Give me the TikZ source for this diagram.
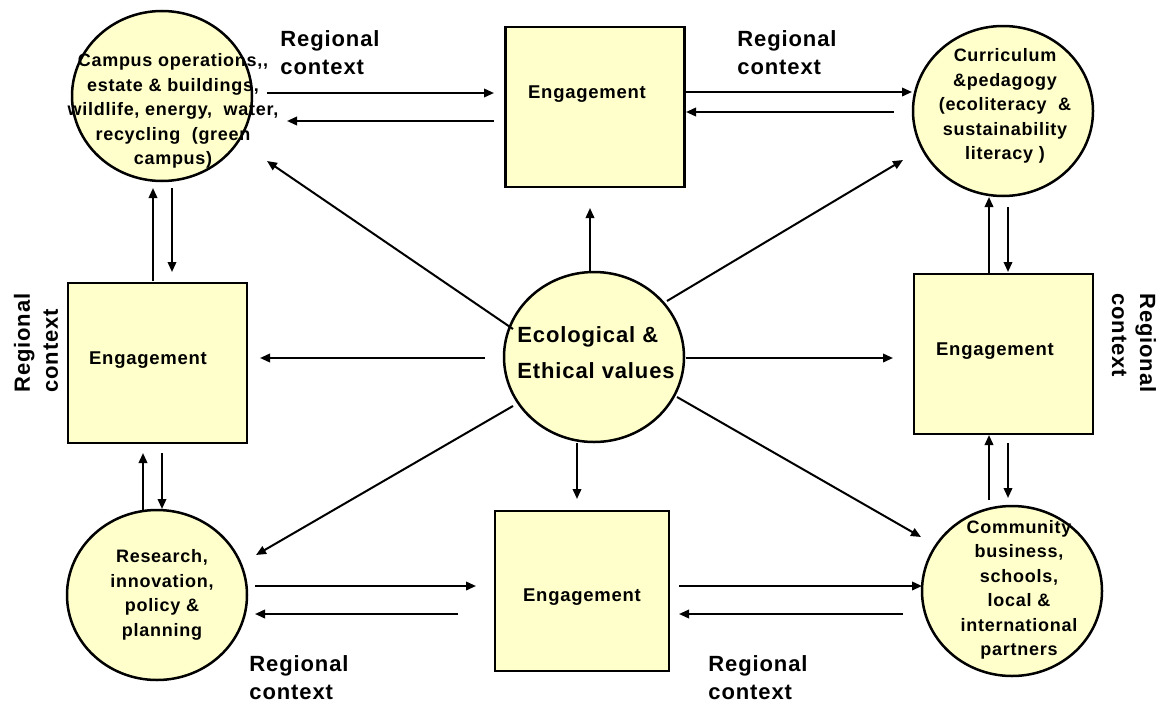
\documentclass[tikz,border=0pt]{standalone}
\usepackage{fontspec}
\setmainfont[LetterSpace=4]{Liberation Sans}
\usetikzlibrary{arrows.meta,shapes.geometric}
\definecolor{paleyellow}{HTML}{FFFFCC}
\tikzset{
  circ/.style={ellipse, draw=black, line width=2.5pt, fill=paleyellow, minimum width=180pt, minimum height=170pt, inner sep=0pt},
  engbox/.style={rectangle, draw=black, line width=2.5pt, fill=paleyellow, minimum width=179pt, minimum height=160pt, inner sep=0pt},
  ctext/.style={align=center, inner sep=0pt, font=\fontsize{18}{24.5}\selectfont\bfseries},
  etext/.style={inner sep=0pt, font=\fontsize{18.5}{22}\selectfont\bfseries},
  vtext/.style={align=left, inner sep=0pt, font=\fontsize{22}{36}\selectfont\bfseries},
  regtext/.style={align=left, inner sep=0pt, font=\fontsize{22}{28}\selectfont\bfseries},
  arr/.style={-{Triangle[length=10pt,width=8.5pt]}, line width=2pt},
  ln/.style={line width=2pt}
}
\begin{document}
\begin{tikzpicture}[x=1pt,y=-1pt]
\useasboundingbox (0,0) rectangle (1161,704);

% circles
\node[circ] (c1) at (162,96) {};
\node[circ] (c2) at (1003,111) {};
\node[circ] (c3) at (1012,591) {};
\node[circ] (c4) at (157,595) {};
\node[circ] (c0) at (594,357) {};

% boxes
\node[engbox] (b1) at (595,107) {};
\node[engbox] (b2) at (157.5,363) {};
\node[engbox] (b3) at (1003.5,354) {};
\node[engbox, minimum width=174pt] (b4) at (582,591) {};

% circle texts
\node[ctext] (t1) at (173,111) {Campus operations,{},\\estate \& buildings,\\wildlife, energy,~ water,\\recycling~ (green\\campus)};
\node[ctext] (t2) at (1005,106) {Curriculum\\\&pedagogy\\(ecoliteracy~ \&\\sustainability\\literacy )};
\node[ctext] (t3) at (1019,590) {Community\\business,\\schools,\\local \&\\international\\partners};
\node[ctext] (t4) at (162,595) {Research,\\innovation,\\policy \&\\planning};
\node[vtext] (t0) at (596,353) {Ecological \&\\Ethical values};

% engagement texts
\node[etext] (e1) at (587,94) {Engagement};
\node[etext] (e2) at (148,360) {Engagement};
\node[etext] (e3) at (995,351) {Engagement};
\node[etext] (e4) at (582,597) {Engagement};

% regional context labels
\node[regtext] (r1) at (330,53) {Regional\\context};
\node[regtext] (r2) at (787,53) {Regional\\context};
\node[regtext] (r3) at (299,678) {Regional\\context};
\node[regtext] (r4) at (758,678) {Regional\\context};
\node[regtext, rotate=90] (r5) at (36,343) {Regional\\context};
\node[regtext, rotate=-90] (r6) at (1134,343) {Regional\\context};

% connectors (named end points)
\foreach \n/\sx/\sy/\ex/\ey in {
  ta/267/93/494/93, tb/494/121/287/121,
  tc/686/92/912/92, td/894/112/686/112,
  ba/255/586/476/586, bb/458/614/255/614,
  bc/679/586/922/586, bd/903/614/679/614,
  la/153/281/153/188, lb/172/188/172/272,
  lc/143/510/143/453, ld/162/453/162/509,
  ra/989/273/989/197, rb/1008/207/1008/272,
  rc/989/500/989/435, rd/1008/443/1008/498,
  ca/590/272/590/208, cb/577/443/577/499,
  cc/485/358/260/358, cd/686/358/893/358,
  ce/513/329/267/161, cf/667/301/903/160,
  cg/513/406/256/555, ch/677/397/921/537}{
  \coordinate (\n s) at (\sx,\sy);
  \coordinate (\n e) at (\ex,\ey);
  \draw[arr] (\n s) -- (\n e);
}
\end{tikzpicture}
\end{document}
